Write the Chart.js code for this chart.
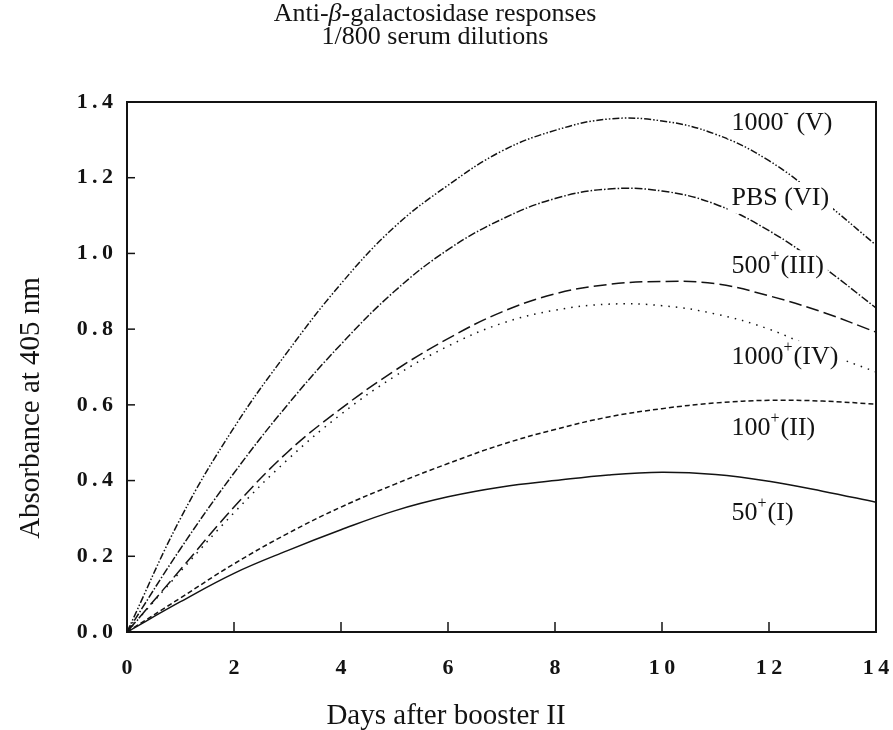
<!DOCTYPE html>
<html>
<head>
<meta charset="utf-8">
<script src="https://cdn.jsdelivr.net/npm/chart.js@4.4.1/dist/chart.umd.min.js"></script>
<style>
  body { margin: 0; background: #fff; }
  #wrap { width: 893px; height: 730px; }
</style>
</head>
<body>
<div id="wrap"><canvas id="absChart" width="893" height="730"></canvas></div>
<script>
// days after booster II
const days = [0, 1, 2, 3, 4, 5, 6, 7, 8, 9, 10, 11, 12, 13, 14];

// absorbance at 405 nm
const groupV   = [0, 0.30, 0.54, 0.74, 0.92, 1.07, 1.18, 1.27, 1.325, 1.355, 1.35, 1.315, 1.245, 1.14, 1.022];
const groupVI  = [0, 0.22, 0.42, 0.60, 0.76, 0.90, 1.01, 1.09, 1.145, 1.17, 1.165, 1.13, 1.06, 0.965, 0.856];
const groupIII = [0, 0.165, 0.33, 0.475, 0.59, 0.69, 0.775, 0.845, 0.893, 0.918, 0.926, 0.92, 0.888, 0.845, 0.792];
const groupIV  = [0, 0.16, 0.315, 0.455, 0.575, 0.675, 0.755, 0.815, 0.85, 0.866, 0.862, 0.84, 0.80, 0.74, 0.687];
const groupII  = [0, 0.09, 0.18, 0.26, 0.33, 0.39, 0.445, 0.495, 0.535, 0.568, 0.59, 0.605, 0.612, 0.61, 0.602];
const groupI   = [0, 0.08, 0.155, 0.215, 0.27, 0.32, 0.357, 0.383, 0.40, 0.415, 0.422, 0.416, 0.398, 0.372, 0.343];

const yTicks = [0, 0.2, 0.4, 0.6, 0.8, 1.0, 1.2, 1.4];
const xTicks = [0, 2, 4, 6, 8, 10, 12, 14];

// label: [base, superscript, rest], left edge at day, centred on absorbance
const curveLabels = [
    { parts: ['1000', '-', ' (V)'], at: [11.3, 1.344] },
    { parts: ['PBS (VI)', '', ''], at: [11.3, 1.146] },
    { parts: ['500', '+', '(III)'], at: [11.3, 0.966] },
    { parts: ['1000', '+', '(IV)'], at: [11.3, 0.726] },
    { parts: ['100', '+', '(II)'], at: [11.3, 0.539] },
    { parts: ['50', '+', '(I)'], at: [11.3, 0.314] }
];

const ink = '#131313';
const serif = '"Liberation Serif", "DejaVu Serif", serif';

function toPoints(vals) {
    return days.map((d, i) => ({ x: d, y: vals[i] }));
}

function spaced(v, digits) {
    return v.toFixed(digits).split('').join('\u2009');
}

function drawParts(ctx, parts, left, cy, size) {
    const [base, sup, rest] = parts;
    const supSize = Math.round(size * 0.62);
    ctx.font = size + 'px ' + serif;
    const wb = ctx.measureText(base).width;
    const wr = ctx.measureText(rest).width;
    ctx.font = supSize + 'px ' + serif;
    const ws = sup ? ctx.measureText(sup).width + 1 : 0;
    const total = wb + ws + wr;
    ctx.fillStyle = '#fff';
    ctx.fillRect(left - 4, cy - size * 0.62, total + 8, size * 1.22);
    ctx.fillStyle = ink;
    ctx.textBaseline = 'middle';
    ctx.textAlign = 'left';
    ctx.font = size + 'px ' + serif;
    ctx.fillText(base, left, cy);
    if (sup) {
        ctx.font = supSize + 'px ' + serif;
        ctx.fillText(sup, left + wb, cy - size * 0.36);
    }
    ctx.font = size + 'px ' + serif;
    ctx.fillText(rest, left + wb + ws, cy);
}

const decorPlugin = {
    id: 'decor',
    afterDatasetsDraw(chart) {
        const { ctx, scales: { x, y } } = chart;
        ctx.save();
        curveLabels.forEach(lab => {
            drawParts(ctx, lab.parts, x.getPixelForValue(lab.at[0]), y.getPixelForValue(lab.at[1]), 26);
        });
        ctx.restore();
    },
    afterDraw(chart) {
        const { ctx, chartArea: a, scales: { x, y } } = chart;
        ctx.save();
        ctx.strokeStyle = ink;
        ctx.lineWidth = 2;
        ctx.strokeRect(a.left, a.top, a.right - a.left, a.bottom - a.top);

        // inward ticks
        ctx.lineWidth = 1.5;
        yTicks.forEach(v => {
            const py = y.getPixelForValue(v);
            ctx.beginPath();
            ctx.moveTo(a.left, py);
            ctx.lineTo(a.left + 8, py);
            ctx.stroke();
        });
        xTicks.forEach(v => {
            const px = x.getPixelForValue(v);
            ctx.beginPath();
            ctx.moveTo(px, a.bottom);
            ctx.lineTo(px, a.bottom - 10);
            ctx.stroke();
        });

        // chart title, beta in italics
        ctx.fillStyle = ink;
        ctx.textBaseline = 'middle';
        ctx.textAlign = 'left';
        const cx = 435;
        const t1 = 'Anti-', t2 = 'β', t3 = '-galactosidase responses';
        ctx.font = '26px ' + serif;
        const w1 = ctx.measureText(t1).width;
        const w3 = ctx.measureText(t3).width;
        ctx.font = 'italic 26px ' + serif;
        const w2 = ctx.measureText(t2).width;
        const sx = cx - (w1 + w2 + w3) / 2;
        ctx.font = '26px ' + serif;
        ctx.fillText(t1, sx, 14);
        ctx.font = 'italic 26px ' + serif;
        ctx.fillText(t2, sx + w1, 14);
        ctx.font = '26px ' + serif;
        ctx.fillText(t3, sx + w1 + w2, 14);

        ctx.textAlign = 'center';
        ctx.fillText('1/800 serum dilutions', cx, 37);

        ctx.font = '29px ' + serif;
        ctx.fillText('Days after booster II', 446, 716);

        ctx.translate(31, 408);
        ctx.rotate(-Math.PI / 2);
        ctx.fillText('Absorbance at 405 nm', 0, 0);
        ctx.restore();
    }
};

function makeSet(label, vals, dash) {
    return {
        label: label,
        data: toPoints(vals),
        borderColor: ink,
        borderWidth: 1.5,
        borderDash: dash,
        pointRadius: 0,
        fill: false,
        tension: 0.4
    };
}

const ctx = document.getElementById('absChart').getContext('2d');
new Chart(ctx, {
    type: 'line',
    data: {
        datasets: [
            makeSet('1000- (V)', groupV, [7, 2, 1.5, 2, 1.5, 2]),
            makeSet('PBS (VI)', groupVI, [8, 2, 1.5, 2]),
            makeSet('500+ (III)', groupIII, [13, 5]),
            makeSet('1000+ (IV)', groupIV, [1.5, 6]),
            makeSet('100+ (II)', groupII, [5, 3]),
            makeSet('50+ (I)', groupI, [])
        ]
    },
    options: {
        responsive: false,
        animation: false,
        layout: { padding: { top: 102, right: 17, left: 0, bottom: 0 } },
        plugins: {
            legend: { display: false },
            tooltip: { enabled: false },
            title: { display: false }
        },
        scales: {
            x: {
                type: 'linear',
                min: 0,
                max: 14,
                afterFit(scale) {
                    scale.height = 98;
                    scale.paddingLeft = 0;
                    scale.paddingRight = 0;
                },
                afterBuildTicks(scale) { scale.ticks = xTicks.map(v => ({ value: v })); },
                grid: { display: false, drawTicks: false },
                border: { display: false },
                ticks: {
                    padding: 23,
                    maxRotation: 0,
                    color: ink,
                    font: { family: serif, size: 22, weight: 'bold' },
                    callback: v => spaced(v, 0)
                }
            },
            y: {
                min: 0,
                max: 1.4,
                afterFit(scale) {
                    scale.width = 127;
                    scale.paddingTop = 0;
                    scale.paddingBottom = 0;
                },
                afterBuildTicks(scale) { scale.ticks = yTicks.map(v => ({ value: v })); },
                grid: { display: false, drawTicks: false },
                border: { display: false },
                ticks: {
                    padding: 14,
                    color: ink,
                    font: { family: serif, size: 22, weight: 'bold' },
                    callback: v => spaced(v, 1)
                }
            }
        }
    },
    plugins: [decorPlugin]
});
</script>
</body>
</html>
